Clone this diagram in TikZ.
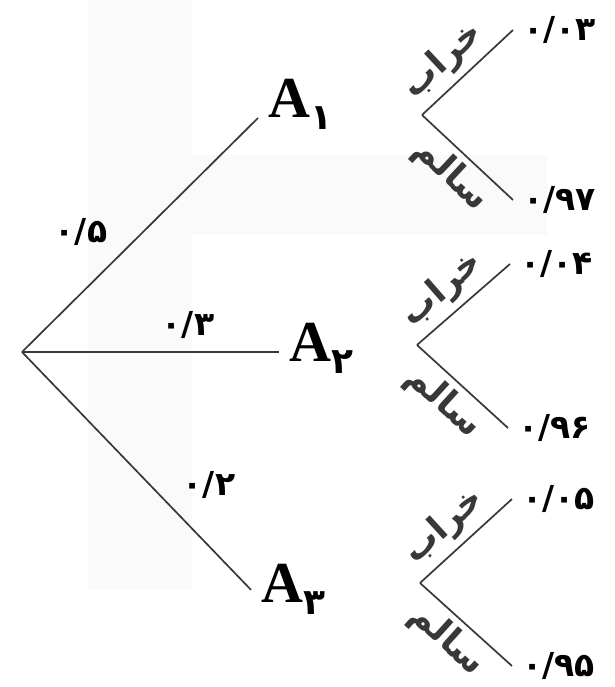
\documentclass[tikz,border=0pt]{standalone}
\usepackage{fontspec}
\setmainfont{Liberation Serif}
\newfontfamily\arabicfont[Script=Arabic]{DejaVu Sans}
\TeXXeTstate=1
\newcommand{\evlabel}[1]{\textbf{A}\raisebox{-12pt}{\arabicfont\bfseries\fontsize{36}{36}\selectfont #1}}
\tikzset{
  branch/.style={line width=1.7pt, black!78},
  num/.style={font=\arabicfont\bfseries\fontsize{33}{33}\selectfont, inner ysep=0pt, inner xsep=10pt},
  event/.style={font=\fontsize{58}{58}\selectfont, inner ysep=0pt, inner xsep=10pt},
  word/.style={font=\arabicfont\bfseries\fontsize{35}{35}\selectfont, sloped, inner sep=1pt},
}

\begin{document}
\begin{tikzpicture}[x=1pt,y=1pt]
\useasboundingbox (0,0) rectangle (614,687);
% faint scan background
\fill[black!2] (88,97) rectangle (192,687);
\fill[black!2] (192,452) rectangle (547,532);
% first level
\coordinate (root) at (22,335);
\node[event, anchor=base west] (A1) at (258,569) {\evlabel{۱}};
\node[event, anchor=base west] (A2) at (279,325) {\evlabel{۲}};
\node[event, anchor=base west] (A3) at (251,84) {\evlabel{۳}};
\draw[branch] (root) -- (A1.base west);
\draw[branch, line width=2.2pt] (root) -- (root -| A2.west);
\draw[branch] (root) -- (A3.west);
\node[num, inner sep=0pt] (p1) at (81,455) {۰/۵};
\node[num, inner sep=0pt] (p2) at (188,362) {۰/۳};
\node[num, inner sep=0pt] (p3) at (209,202) {۰/۲};
% second level
\coordinate (f1) at (422,572);
\coordinate (f2) at (417,342);
\coordinate (f3) at (420,104);
\node[num, anchor=west] (n1) at (513,657) {۰/۰۳};
\node[num, anchor=west] (n2) at (513,487) {۰/۹۷};
\node[num, anchor=west] (n3) at (510,423) {۰/۰۴};
\node[num, anchor=west] (n4) at (508,259) {۰/۹۶};
\node[num, anchor=west] (n5) at (512,188) {۰/۰۵};
\node[num, anchor=west] (n6) at (512,21) {۰/۹۵};
\draw[branch] (f1) -- node[word, pos=0.42, above=6pt] {\beginR خراب\endR} (n1.west);
\draw[branch] (f1) -- node[word, pos=0.5, below=5pt] {\beginR سالم\endR} (n2.west);
\draw[branch] (f2) -- node[word, pos=0.45, above=6pt] {\beginR خراب\endR} (n3.west);
\draw[branch] (f2) -- node[word, pos=0.47, below=5pt] {\beginR سالم\endR} (n4.west);
\draw[branch] (f3) -- node[word, pos=0.45, above=6pt] {\beginR خراب\endR} (n5.west);
\draw[branch] (f3) -- node[word, pos=0.47, below=5pt] {\beginR سالم\endR} (n6.west);
\end{tikzpicture}
\end{document}
